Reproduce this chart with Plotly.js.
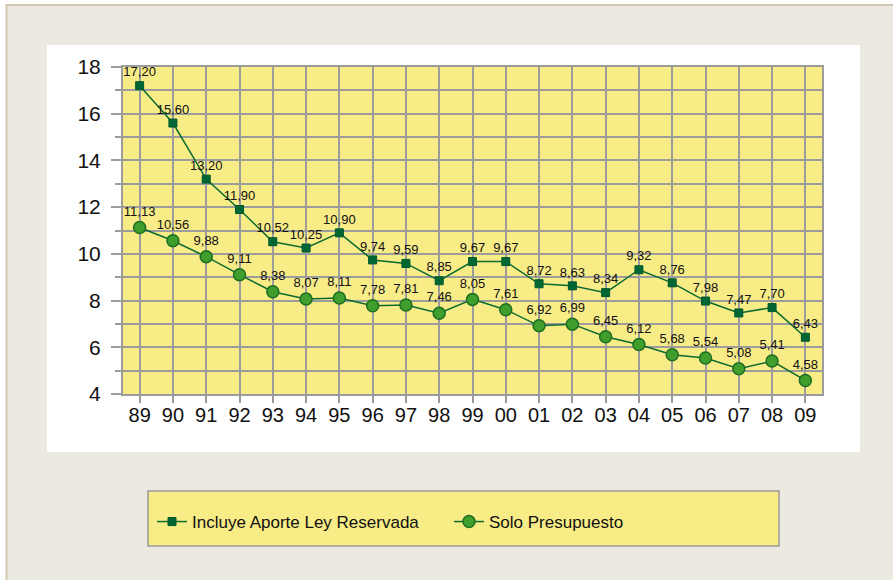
<!DOCTYPE html>
<html>
<head>
<meta charset="utf-8">
<script src="https://cdn.plot.ly/plotly-3.0.1.min.js"></script>
<style>
  body { margin: 0; padding: 0; }
  #chart { width: 893px; height: 580px; }
</style>
</head>
<body>
<div id="chart"></div>
<script>
var years = ['89', '90', '91', '92', '93', '94', '95', '96', '97', '98', '99',
             '00', '01', '02', '03', '04', '05', '06', '07', '08', '09'];

var conLey = [17.20, 15.60, 13.20, 11.90, 10.52, 10.25, 10.90, 9.74, 9.59, 8.85, 9.67,
              9.67, 8.72, 8.63, 8.34, 9.32, 8.76, 7.98, 7.47, 7.70, 6.43];

var soloPresupuesto = [11.13, 10.56, 9.88, 9.11, 8.38, 8.07, 8.11, 7.78, 7.81, 7.46, 8.05,
                       7.61, 6.92, 6.99, 6.45, 6.12, 5.68, 5.54, 5.08, 5.41, 4.58];

var seriesNames = ['Incluye Aporte Ley Reservada', 'Solo Presupuesto'];

// etiquetas con coma decimal
function label(v) { return v.toFixed(2).replace('.', ','); }

// convierte pixeles de la imagen a coordenadas 'paper'
var L = 123, R = 822, T = 67, B = 394;
function px(x) { return (x - L) / (R - L); }
function py(y) { return (B - y) / (B - T); }

var sans = '"Liberation Sans", Arial, sans-serif';

var data = [
    {
        x: years, y: conLey,
        type: 'scatter', mode: 'lines+markers+text',
        name: seriesNames[0],
        text: conLey.map(label),
        textposition: 'top center',
        textfont: { family: sans, size: 13, color: '#111' },
        line: { color: '#0b6a30', width: 1.5 },
        marker: { symbol: 'square', size: 8, color: '#006633', line: { color: '#005a2a', width: 1 } },
        cliponaxis: false
    },
    {
        x: years, y: soloPresupuesto,
        type: 'scatter', mode: 'lines+markers+text',
        name: seriesNames[1],
        text: soloPresupuesto.map(label),
        textposition: 'top center',
        textfont: { family: sans, size: 13, color: '#111' },
        line: { color: '#0b6a30', width: 1.5 },
        marker: { symbol: 'circle', size: 12, color: '#3f9e2c', line: { color: '#1d6e22', width: 1.5 } },
        cliponaxis: false
    }
];

var layout = {
    width: 893,
    height: 580,
    margin: { l: L, r: 893 - R, t: T, b: 580 - B },
    paper_bgcolor: '#ffffff',
    plot_bgcolor: 'rgba(0,0,0,0)',
    font: { family: sans, color: '#111' },
    showlegend: true,
    xaxis: {
        type: 'category',
        range: [-0.5, 20.5],
        showgrid: true,
        gridcolor: '#9c9c9c',
        gridwidth: 1.5,
        ticks: 'outside',
        ticklen: 7,
        tickcolor: '#9c9c9c',
        tickwidth: 1.5,
        showline: true,
        linecolor: '#9c9c9c',
        linewidth: 2,
        mirror: true,
        tickfont: { family: sans, size: 20, color: '#111' },
        ticklabelstandoff: -5,
        zeroline: false
    },
    yaxis: {
        range: [4, 18],
        dtick: 2,
        tick0: 4,
        showgrid: true,
        gridcolor: '#9c9c9c',
        gridwidth: 1.5,
        ticks: 'outside',
        ticklen: 10,
        tickcolor: '#9c9c9c',
        tickwidth: 1.5,
        showline: true,
        linecolor: '#9c9c9c',
        linewidth: 2,
        mirror: true,
        tickfont: { family: sans, size: 21, color: '#111' },
        ticklabelstandoff: 6,
        zeroline: false,
        minor: {
            dtick: 1,
            showgrid: true,
            gridcolor: '#9c9c9c',
            gridwidth: 1.5,
            ticks: 'outside',
            ticklen: 6,
            tickcolor: '#9c9c9c',
            tickwidth: 1.5
        }
    },
    legend: {
        orientation: 'h',
        x: px(152), xanchor: 'left',
        y: py(522), yanchor: 'middle',
        bgcolor: 'rgba(0,0,0,0)',
        borderwidth: 0,
        entrywidth: 252,
        font: { family: sans, size: 17, color: '#111' }
    },
    shapes: [
        // fondo beige con borde
        { type: 'rect', xref: 'paper', yref: 'paper', layer: 'below',
          x0: px(6.5), x1: px(900), y0: py(5), y1: py(600),
          fillcolor: '#ece9e1', line: { color: '#d3c7b3', width: 2 } },
        // panel blanco
        { type: 'rect', xref: 'paper', yref: 'paper', layer: 'below',
          x0: px(47), x1: px(860), y0: py(45), y1: py(452),
          fillcolor: '#ffffff', line: { width: 0 } },
        // area del grafico amarilla
        { type: 'rect', xref: 'paper', yref: 'paper', layer: 'below',
          x0: 0, x1: 1, y0: 0, y1: 1,
          fillcolor: '#f8ec86', line: { width: 0 } },
        // caja de la leyenda
        { type: 'rect', xref: 'paper', yref: 'paper', layer: 'below',
          x0: px(148), x1: px(779), y0: py(491), y1: py(546),
          fillcolor: '#f8ec86', line: { color: '#999999', width: 1.5 } }
    ]
};

Plotly.newPlot('chart', data, layout, { displayModeBar: false });
</script>
</body>
</html>
